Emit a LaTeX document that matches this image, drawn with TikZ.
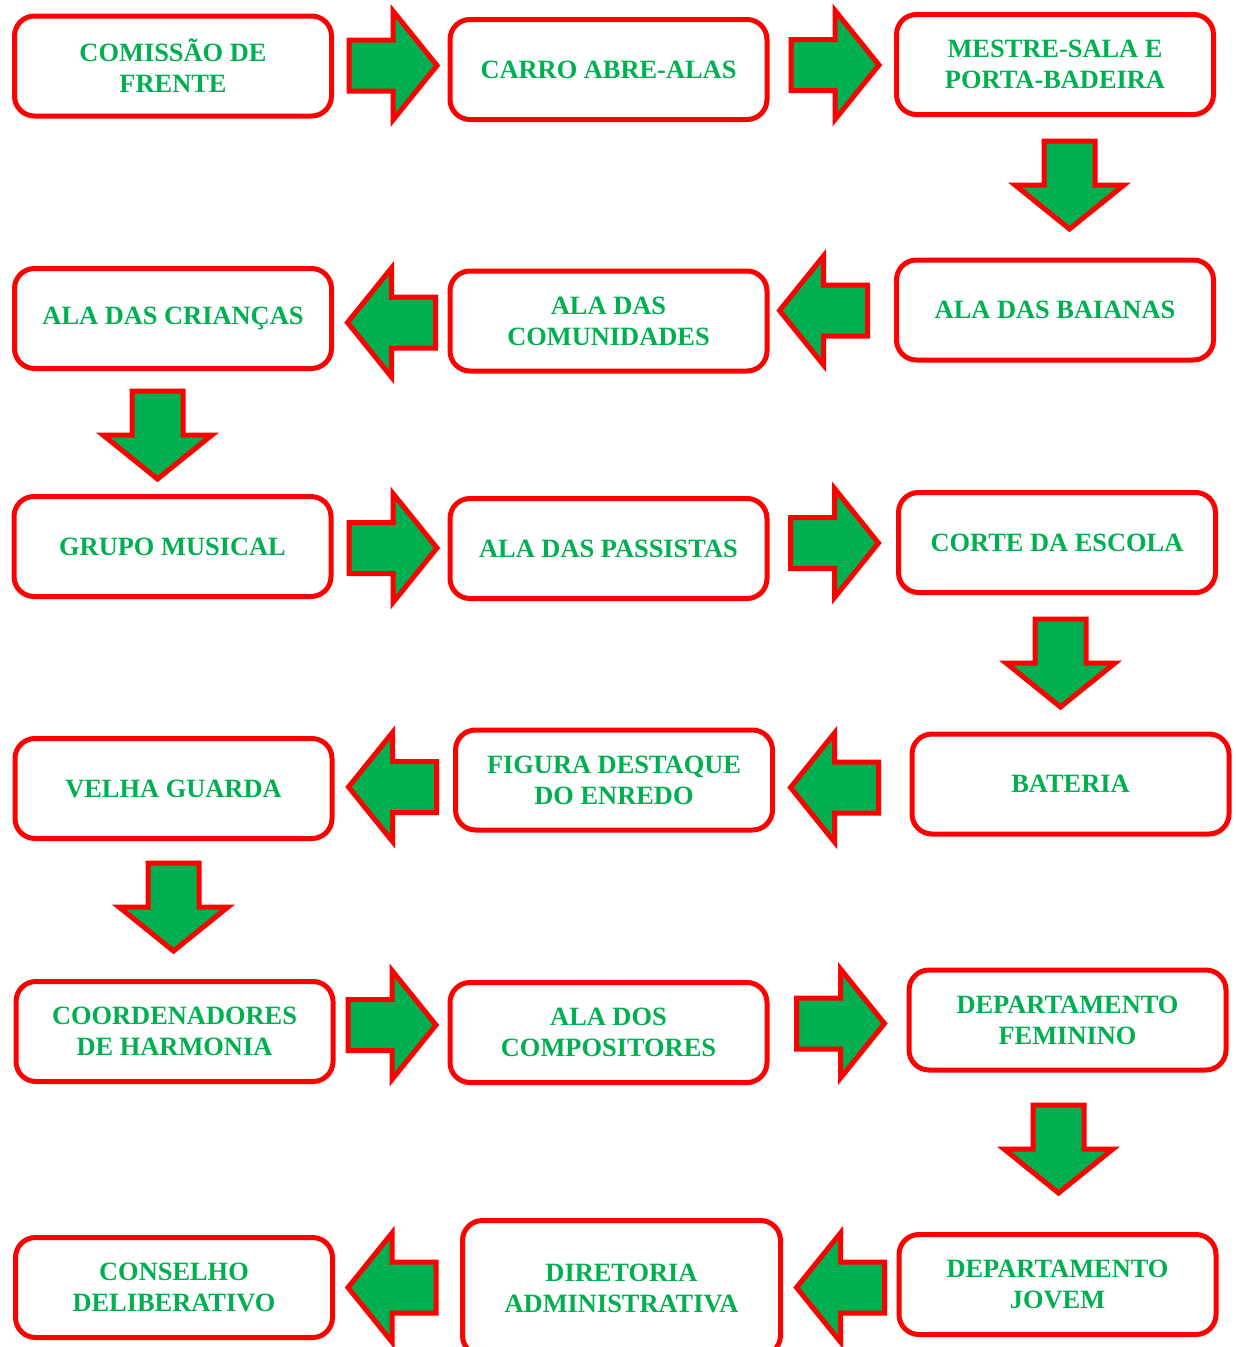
\documentclass[tikz,border=0pt]{standalone}
\usepackage{fontspec}
\setmainfont{Liberation Serif}
\definecolor{ogreen}{HTML}{00B050}
\definecolor{ored}{HTML}{FF0000}
\begin{document}
\begin{tikzpicture}[x=1pt,y=-1pt,
  box/.style={draw=ored, line width=5pt, rounded corners=20pt, fill=white,
    minimum width=317pt, minimum height=100pt, inner sep=0pt, align=center,
    text=ogreen, font=\fontsize{26.4pt}{31pt}\selectfont\bfseries},
  arrowshape/.style={draw=ored, fill=ogreen, line width=5pt, miter limit=10},
  blockarrow/.pic={\draw[arrowshape] (-44,25.5) -- (0,25.5) -- (0,54.5) -- (44,0) -- (0,-54.5) -- (0,-25.5) -- (-44,-25.5) -- cycle;}
]
\clip (0,0) rectangle (1235,1347);
% row 1
\node[box] (b1) at (173,66) {COMISSÃO DE\\FRENTE};
\node[box] (b2) at (608.5,69.5) {CARRO ABRE-ALAS};
\node[box] (b3) at (1055,64.5) {MESTRE-SALA E\\PORTA-BADEIRA};
% row 2
\node[box] (b4) at (173,318.5) {ALA DAS CRIANÇAS};
\node[box] (b5) at (608.5,321) {ALA DAS\\COMUNIDADES};
\node[box] (b6) at (1055,310) {ALA DAS BAIANAS};
% row 3
\node[box] (b7) at (172.5,546.5) {GRUPO MUSICAL};
\node[box] (b8) at (608.5,548.5) {ALA DAS PASSISTAS};
\node[box] (b9) at (1057,542.5) {CORTE DA ESCOLA};
% row 4
\node[box] (b10) at (173.5,788.5) {VELHA GUARDA};
\node[box] (b11) at (614,780) {FIGURA DESTAQUE\\DO ENREDO};
\node[box] (b12) at (1070.5,784) {BATERIA};
% row 5
\node[box] (b13) at (174.5,1031.5) {COORDENADORES\\DE HARMONIA};
\node[box] (b14) at (608.5,1032.5) {ALA DOS\\COMPOSITORES};
\node[box] (b15) at (1067.5,1020) {DEPARTAMENTO\\FEMININO};
% row 6
\node[box] (b16) at (174,1287.5) {CONSELHO\\DELIBERATIVO};
\node[box, minimum width=318pt, minimum height=135pt] (b17) at (621.5,1288) {DIRETORIA\\ADMINISTRATIVA};
\node[box] (b18) at (1057.5,1284.5) {DEPARTAMENTO\\JOVEM};
% arrows
\pic at (393,65.5) {blockarrow};
\pic at (835,65) {blockarrow};
\pic[rotate=-90] at (1069.5,185) {blockarrow};
\pic[rotate=180] at (391.5,322.5) {blockarrow};
\pic[rotate=180] at (823.5,310.5) {blockarrow};
\pic[rotate=-90] at (157.5,435) {blockarrow};
\pic at (393,548) {blockarrow};
\pic at (834.5,543) {blockarrow};
\pic[rotate=-90] at (1060.5,663) {blockarrow};
\pic[rotate=180] at (392.5,787) {blockarrow};
\pic[rotate=180] at (834.5,787.5) {blockarrow};
\pic[rotate=-90] at (173.5,907) {blockarrow};
\pic at (392,1025) {blockarrow};
\pic at (840.5,1023.5) {blockarrow};
\pic[rotate=-90] at (1058.5,1149) {blockarrow};
\pic[rotate=180] at (392,1287.5) {blockarrow};
\pic[rotate=180] at (840.5,1287.5) {blockarrow};
\end{tikzpicture}
\end{document}
